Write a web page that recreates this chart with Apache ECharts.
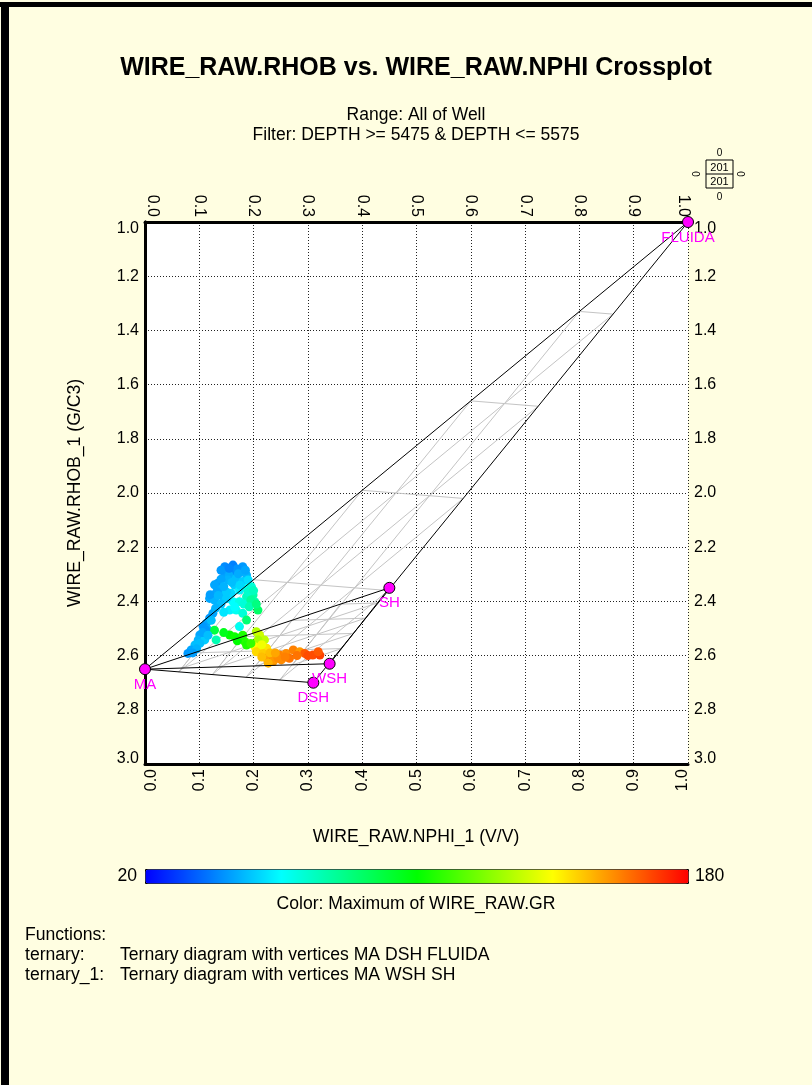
<!DOCTYPE html>
<html lang="en">
<head>
<meta charset="UTF-8" />
<script src="https://cdn.jsdelivr.net/npm/echarts@6/dist/echarts.min.js"></script>
<title>Crossplot</title>
<style>
  html, body { margin: 0; padding: 0; background: #fffee1; }
  #app { width: 812px; height: 1085px; }
</style>
</head>
<body>
<div id="app"></div>
<script>
// axis tick labels
const xTickLabels = ['0.0','0.1','0.2','0.3','0.4','0.5','0.6','0.7','0.8','0.9','1.0'];
const yTickLabels = ['1.0','1.2','1.4','1.6','1.8','2.0','2.2','2.4','2.6','2.8','3.0'];

// end points (name, NPHI, RHOB)
const vertexNames = ['MA', 'DSH', 'FLUIDA', 'WSH', 'SH'];
const vertexNphi  = [0.0, 0.31, 1.0, 0.34, 0.45];
const vertexRhob  = [2.65, 2.70, 1.0, 2.63, 2.35];

// ternary functions (vertex names)
const ternary  = ['MA', 'DSH', 'FLUIDA'];
const ternary1 = ['MA', 'WSH', 'SH'];
const ternaryStep = 0.2;

// point counts shown in the corner box
const countTop = 0, countLeft = 0, countRight = 0, countBottom = 0;
const countPlotted = 201, countTotal = 201;

// crossplot samples
const nphi = [0.147,0.162,0.180,0.147,0.162,0.178,0.187,0.170,0.155,0.134,
              0.128,0.153,0.168,0.180,0.190,0.165,0.140,0.119,0.128,0.144,
              0.159,0.174,0.187,0.196,0.150,0.162,0.174,0.187,0.199,0.202,
              0.190,0.156,0.168,0.180,0.208,0.187,0.174,0.125,0.119,0.113,
              0.107,0.101,0.098,0.092,0.085,0.079,0.110,0.101,0.116,0.122,
              0.128,0.131,0.156,0.165,0.174,0.184,0.187,0.205,0.211,0.220,
              0.208,0.202,0.211,0.224,0.205,0.217,0.224,0.236,0.248,0.260,
              0.273,0.285,0.266,0.251,0.236,0.227,0.294,0.309,0.322,0.319,
              0.140,0.155,0.172,0.185,0.140,0.160,0.175,0.145,0.132,0.120,
              0.135,0.150,0.140,0.130,0.145,0.112,0.106,0.095,0.088,0.116,
              0.182,0.195,0.192,0.200,0.165,0.205,
              0.145,0.170,0.180,0.195,
              0.215,0.230,0.245,0.258,0.280,0.300,0.215,0.240];
const rhob = [2.272,2.266,2.272,2.296,2.290,2.290,2.303,2.280,2.305,2.333,
              2.339,2.321,2.315,2.327,2.321,2.340,2.355,2.389,2.395,2.383,
              2.370,2.358,2.352,2.346,2.365,2.401,2.401,2.383,2.376,2.401,
              2.365,2.432,2.432,2.444,2.432,2.469,2.493,2.444,2.462,2.481,
              2.493,2.524,2.542,2.561,2.579,2.592,2.542,2.555,2.505,2.470,
              2.506,2.542,2.524,2.530,2.536,2.549,2.561,2.512,2.524,2.542,
              2.542,2.567,2.579,2.573,2.586,2.592,2.610,2.604,2.598,2.592,
              2.579,2.586,2.610,2.616,2.622,2.628,2.592,2.598,2.598,2.586,
              2.285,2.278,2.298,2.285,2.318,2.330,2.340,2.345,2.365,2.375,
              2.378,2.390,2.410,2.425,2.440,2.505,2.515,2.575,2.590,2.525,
              2.410,2.395,2.420,2.360,2.420,2.410,
              2.515,2.545,2.525,2.555,
              2.560,2.590,2.610,2.605,2.600,2.600,2.605,2.590];
const gr   = [42,40,44,45,42,46,48,43,47,44,
              46,48,50,52,55,52,47,46,48,50,
              54,58,62,66,52,60,64,70,74,72,
              68,58,62,66,84,82,62,46,44,46,
              44,46,48,50,46,44,52,50,48,50,
              90,72,100,102,98,106,104,128,132,130,
              126,140,142,144,146,148,155,158,160,158,
              160,156,162,158,156,152,166,168,170,166,
              44,41,47,46,46,50,54,48,46,45,
              49,52,50,48,56,44,46,48,45,50,
              66,76,72,70,60,80,
              96,100,104,108,
              138,150,158,160,162,168,150,154];

const grMin = 20, grMax = 180;
const colorScale = ['#0000ff', '#00ffff', '#00ff00', '#ffff00', '#ff0000'];

const points = nphi.map((v, i) => [v, rhob[i], gr[i]]);
const vtx = name => {
  const i = vertexNames.indexOf(name);
  return [vertexNphi[i], vertexRhob[i]];
};

// triangle edges and ternary grid lines
function edges(tri) {
  const p = tri.map(vtx);
  return [[p[0], p[1]], [p[1], p[2]], [p[2], p[0]]].map(c => ({ coords: c }));
}
function gridLines(tri) {
  const p = tri.map(vtx);
  const out = [];
  for (let k = 0; k < 3; k++) {
    const a = p[k], b = p[(k + 1) % 3], c = p[(k + 2) % 3];
    for (let t = ternaryStep; t < 1 - 1e-6; t += ternaryStep) {
      const mix = (q) => [a[0] * t + q[0] * (1 - t), a[1] * t + q[1] * (1 - t)];
      out.push({ coords: [mix(b), mix(c)] });
    }
  }
  return out;
}

const font = 'Arial';
const tickFont = { fontFamily: font, fontSize: 16, color: '#000' };
const chart = echarts.init(document.getElementById('app'));

// end labels are pulled a little inside the frame, as in the original
// (padA shifts one way, padB the other)
const endRich = {
  padA: Object.assign({ padding: [14, 0, 0, 0] }, tickFont),
  padB: Object.assign({ padding: [0, 0, 10, 0] }, tickFont),
  padC: Object.assign({ padding: [0, 0, 14, 0] }, tickFont),
  padD: Object.assign({ padding: [10, 0, 0, 0] }, tickFont)
};
function endLabel(labels, idx, firstTag, lastTag) {
  if (idx === 0) return '{' + firstTag + '|' + labels[idx] + '}';
  if (idx === labels.length - 1) return '{' + lastTag + '|' + labels[idx] + '}';
  return labels[idx];
}

function xAxis(position, withSplit, firstTag, lastTag) {
  return {
    type: 'value', min: 0, max: 1, interval: 0.1, position: position,
    axisLine: { show: true, lineStyle: { color: '#000', width: 3 } },
    axisTick: { show: false },
    splitLine: { show: withSplit, lineStyle: { type: [1, 2], color: '#222', width: 1 } },
    axisLabel: Object.assign({
      rotate: 90, margin: 5, rich: endRich,
      formatter: v => endLabel(xTickLabels, Math.round(v * 10), firstTag, lastTag)
    }, tickFont)
  };
}
function yAxis(position, withSplit) {
  return {
    type: 'value', min: 1, max: 3, interval: 0.2, inverse: true, position: position,
    axisLine: { show: true, lineStyle: { color: '#000', width: 3 } },
    axisTick: { show: false },
    splitLine: { show: withSplit, lineStyle: { type: [1, 2], color: '#222', width: 1 } },
    axisLabel: Object.assign({
      margin: 6, rich: endRich,
      formatter: v => endLabel(yTickLabels, Math.round((v - 1) * 5), 'padA', 'padB')
    }, tickFont)
  };
}

const txt = (x, y, text, size, align, extra) => Object.assign({
  type: 'text', x: x, y: y,
  style: { text: text, font: size + 'px Arial', fill: '#000',
           textAlign: align || 'left', textVerticalAlign: 'middle' }
}, extra || {});

chart.setOption({
  backgroundColor: '#fffee1',
  animation: false,
  grid: {
    left: 145, top: 222, width: 543, height: 542,
    show: true, backgroundColor: '#fff', borderWidth: 0
  },
  xAxis: [
    xAxis('bottom', true, 'padA', 'padB'),
    xAxis('top', false, 'padC', 'padD')
  ],
  yAxis: [
    yAxis('left', true),
    yAxis('right', false)
  ],
  visualMap: {
    type: 'continuous', min: grMin, max: grMax, dimension: 2, seriesIndex: 1,
    orient: 'horizontal', left: 145, top: 869, itemWidth: 14, itemHeight: 543,
    calculable: false, hoverLink: false, padding: 0,
    borderWidth: 1, borderColor: '#000',
    inRange: { color: colorScale }
  },
  series: [
    {
      type: 'lines', coordinateSystem: 'cartesian2d', silent: true, z: 2,
      lineStyle: { color: '#c4c4c4', width: 1, opacity: 1 },
      data: gridLines(ternary).concat(gridLines(ternary1))
    },
    {
      type: 'scatter', symbol: 'circle', symbolSize: 9, z: 3,
      itemStyle: { opacity: 1 },
      data: points
    },
    {
      type: 'lines', coordinateSystem: 'cartesian2d', silent: true, z: 4,
      lineStyle: { color: '#000', width: 1, opacity: 1 },
      data: edges(ternary).concat(edges(ternary1))
    },
    {
      type: 'scatter', symbol: 'circle', symbolSize: 11, z: 5,
      itemStyle: { color: '#ff00ff', borderColor: '#000', borderWidth: 1, opacity: 1 },
      label: {
        show: true, position: 'bottom', distance: 2, formatter: '{b}',
        color: '#ff00ff', fontFamily: font, fontSize: 15
      },
      data: vertexNames.map((n, i) => ({ name: n, value: [vertexNphi[i], vertexRhob[i]] }))
    }
  ],
  graphic: [
    // window border
    { type: 'rect', shape: { x: 0, y: 2, width: 812, height: 5 }, style: { fill: '#000' } },
    { type: 'rect', shape: { x: 1, y: 2, width: 8, height: 1083 }, style: { fill: '#000' } },
    // titles
    { type: 'text', x: 416, y: 68, style: { text: 'WIRE_RAW.RHOB vs. WIRE_RAW.NPHI Crossplot',
      font: 'bold 25px Arial', fill: '#000', textAlign: 'center', textVerticalAlign: 'middle' } },
    txt(416, 115, 'Range: All of Well', 17.5, 'center'),
    txt(416, 135, 'Filter: DEPTH >= 5475 & DEPTH <= 5575', 17.5, 'center'),
    // axis names
    txt(416, 837, 'WIRE_RAW.NPHI_1 (V/V)', 17.6, 'center'),
    txt(75, 493, 'WIRE_RAW.RHOB_1 (G/C3)', 17.6, 'center', { rotation: Math.PI / 2 }),
    // colour bar captions
    txt(137, 876, String(grMin), 17.6, 'right'),
    txt(695, 876, String(grMax), 17.6, 'left'),
    txt(416, 904, 'Color: Maximum of WIRE_RAW.GR', 17.6, 'center'),
    // functions
    txt(25, 935, 'Functions:', 17.6),
    txt(25, 955, 'ternary:', 17.6),
    txt(120, 955, 'Ternary diagram with vertices ' + ternary.join(' '), 17.6),
    txt(25, 975, 'ternary_1:', 17.6),
    txt(120, 975, 'Ternary diagram with vertices ' + ternary1.join(' '), 17.6),
    // point count box
    { type: 'rect', shape: { x: 706, y: 160, width: 27, height: 28 }, style: { fill: 'none', stroke: '#000', lineWidth: 1 } },
    { type: 'line', shape: { x1: 706, y1: 174, x2: 733, y2: 174 }, style: { stroke: '#000', lineWidth: 1 } },
    txt(719.5, 167.5, String(countPlotted), 11, 'center'),
    txt(719.5, 181.5, String(countTotal), 11, 'center'),
    txt(719.5, 153, String(countTop), 10, 'center'),
    txt(719.5, 197, String(countBottom), 10, 'center'),
    txt(697, 174, String(countLeft), 10, 'center', { rotation: Math.PI / 2 }),
    txt(742, 174, String(countRight), 10, 'center', { rotation: Math.PI / 2 })
  ]
});
</script>
</body>
</html>
